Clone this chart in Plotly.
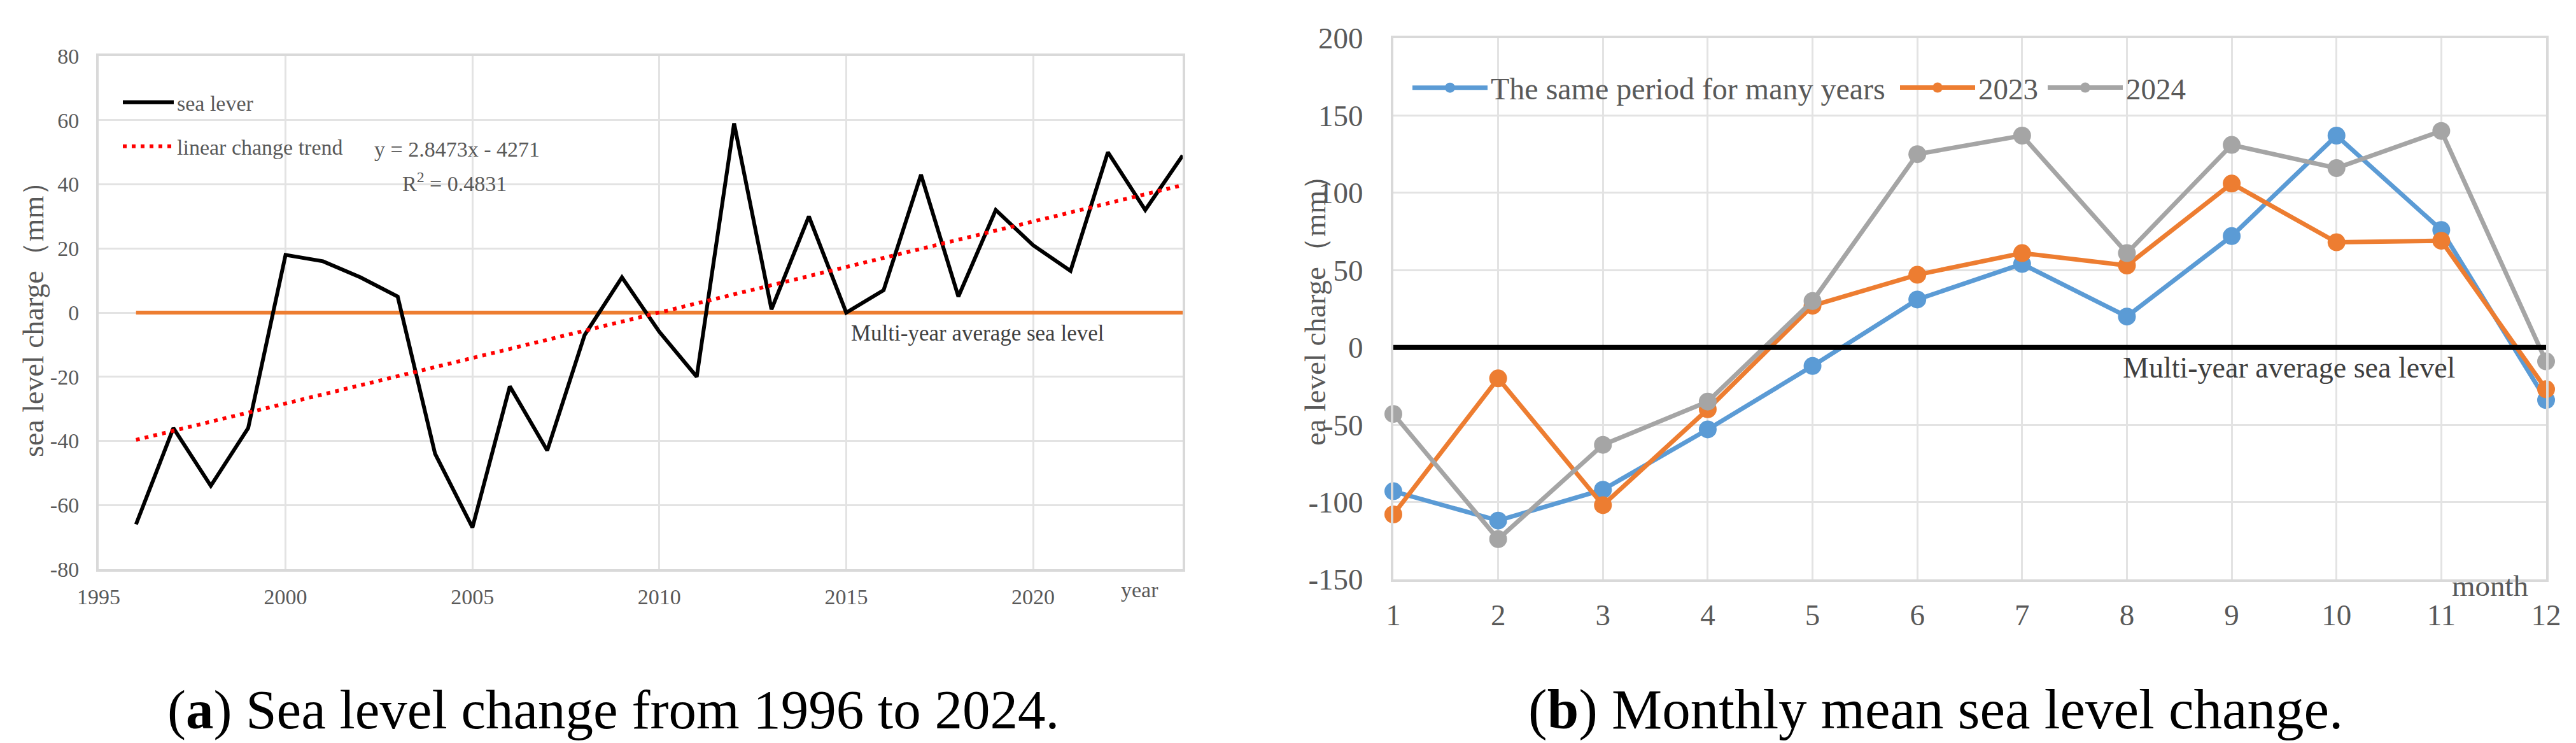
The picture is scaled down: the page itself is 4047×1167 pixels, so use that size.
import numpy as np
import plotly.graph_objects as go

# ---------------- data ----------------
years = list(range(1996, 2025))
sea_level = [-66, -36, -54, -36, 18, 16, 11, 5, -44, -67,
             -23, -43, -7, 11, -6, -20, 59, 1, 30, 0,
             7, 43, 5, 32, 21, 13, 50, 32, 49]
avg_level = 0

months = list(range(1, 13))
month_ticks = [str(m) for m in months]
series_names = ["The same period for many years", "2023", "2024"]
same_period = [-93, -112, -92, -53, -12, 31, 54, 20, 72, 137, 76, -34]
y2023 = [-108, -20, -102, -40, 27, 47, 61, 53, 106, 68, 69, -27]
y2024 = [-43, -124, -63, -35, 30, 125, 137, 61, 131, 116, 140, -9]

year_ticks = [1995, 2000, 2005, 2010, 2015, 2020]
left_yticks = [-80, -60, -40, -20, 0, 20, 40, 60, 80]
right_yticks = [-150, -100, -50, 0, 50, 100, 150, 200]

trend_eq = "y = 2.8473x - 4271"
trend_r2 = "R<sup>2</sup> = 0.4831"

# linear trend computed from the data
coef = np.polyfit(years, sea_level, 1)
trend = list(np.polyval(coef, years))

W, H = 4047, 1167
SERIF = "Liberation Serif, Times New Roman, serif"
GRID = "#e3e3e3"
BORDER = "#d9d9d9"
TXT = "#595959"
LF = 34   # left panel text size
RF = 47   # right panel text size


def px(x):
    return x / W


def py(y):
    return 1 - y / H


def hyphen_labels(vals):
    return [str(v) for v in vals]


fig = go.Figure()

# ---- left panel ----
fig.add_trace(go.Scatter(x=[years[0], years[-1]], y=[avg_level, avg_level], mode="lines",
                         line=dict(color="#ED7D31", width=6), showlegend=False,
                         xaxis="x", yaxis="y", hoverinfo="skip"))
fig.add_trace(go.Scatter(x=years, y=sea_level, mode="lines", name="sea lever",
                         line=dict(color="black", width=6), legend="legend",
                         legendgroup="a", xaxis="x", yaxis="y"))
fig.add_trace(go.Scatter(x=years, y=trend, mode="lines", name="linear change trend",
                         line=dict(color="#FF0000", width=6, dash="6px,8px"),
                         legend="legend", legendgroup="b", xaxis="x", yaxis="y"))

# ---- right panel ----
colors = ["#5B9BD5", "#ED7D31", "#A5A5A5"]
legend_ids = ["legend2", "legend3", "legend4"]
for name, vals, col, lg in zip(series_names, [same_period, y2023, y2024], colors, legend_ids):
    fig.add_trace(go.Scatter(x=months, y=vals, mode="lines+markers", name=name,
                             line=dict(color=col, width=7),
                             marker=dict(color=col, size=28),
                             cliponaxis=False, legend=lg,
                             xaxis="x2", yaxis="y2"))
fig.add_trace(go.Scatter(x=[months[0], months[-1]], y=[avg_level, avg_level], mode="lines",
                         line=dict(color="black", width=8), showlegend=False,
                         cliponaxis=False, xaxis="x2", yaxis="y2", hoverinfo="skip"))

axis_common = dict(showgrid=True, gridcolor=GRID, gridwidth=3, showline=True,
                   linecolor=BORDER, linewidth=4, mirror=True, zeroline=False, ticks="")


def right_legend(xpix, size=RF):
    return dict(x=px(xpix), y=py(130), xanchor="left", yanchor="middle",
                orientation="h", bgcolor="rgba(0,0,0,0)",
                font=dict(size=size, color=TXT, family=SERIF), itemwidth=118,
                itemsizing="trace")


fig.update_layout(
    width=W, height=H, autosize=False,
    margin=dict(l=0, r=0, t=0, b=0, pad=0, autoexpand=False),
    paper_bgcolor="white", plot_bgcolor="white",
    font=dict(family=SERIF, color=TXT),
    xaxis=dict(domain=[px(147), px(1850)], range=[1995, 2024], tickvals=year_ticks,
               ticktext=hyphen_labels(year_ticks),
               tickfont=dict(size=LF, color=TXT), ticklabelstandoff=10, anchor="y",
               **axis_common),
    yaxis=dict(domain=[py(886), py(80)], range=[-80, 80], tickvals=left_yticks,
               ticktext=hyphen_labels(left_yticks),
               tickfont=dict(size=LF, color=TXT), ticklabelstandoff=20, anchor="x",
               **axis_common),
    xaxis2=dict(domain=[px(2181), px(3992)], range=[1, 12], tickvals=months,
                ticktext=month_ticks,
                tickfont=dict(size=RF, color=TXT), ticklabelstandoff=12, anchor="y2",
                **axis_common),
    yaxis2=dict(domain=[py(902), py(52)], range=[-150, 200], tickvals=right_yticks,
                ticktext=hyphen_labels(right_yticks),
                tickfont=dict(size=RF, color=TXT), ticklabelstandoff=34, anchor="x2",
                **axis_common),
    legend=dict(x=px(180), y=py(124), xanchor="left", yanchor="top",
                orientation="v", bgcolor="rgba(0,0,0,0)", tracegroupgap=22,
                font=dict(size=LF, color=TXT, family=SERIF), itemwidth=80),
    legend2=right_legend(2206, 48),
    legend3=right_legend(2972),
    legend4=right_legend(3204),
    showlegend=True,
)

ann = [
    dict(text=trend_eq, x=px(578), y=py(226), xref="paper", yref="paper",
         xanchor="left", yanchor="middle", showarrow=False,
         font=dict(size=LF, color=TXT)),
    dict(text=trend_r2, x=px(622), y=py(278), xref="paper", yref="paper",
         xanchor="left", yanchor="middle", showarrow=False,
         font=dict(size=LF, color=TXT)),
    dict(text="Multi-year average sea level", x=2015.1, y=-6.5, xref="x", yref="y",
         xanchor="left", yanchor="middle", showarrow=False,
         font=dict(size=LF + 1, color="#404040")),
    dict(text="year", x=px(1782), y=py(918), xref="paper", yref="paper",
         xanchor="center", yanchor="middle", showarrow=False,
         font=dict(size=LF, color=TXT)),
    dict(text="sea level charge（mm）", x=px(45), y=py(482), xref="paper", yref="paper",
         xanchor="center", yanchor="middle", textangle=-90, showarrow=False,
         font=dict(size=46, color=TXT)),
    dict(text="Multi-year average sea level", x=7.95, y=-13, xref="x2", yref="y2",
         xanchor="left", yanchor="middle", showarrow=False,
         font=dict(size=46, color="#404040")),
    dict(text="month", x=px(3904), y=py(912), xref="paper", yref="paper",
         xanchor="center", yanchor="middle", showarrow=False,
         font=dict(size=RF, color=TXT)),
    dict(text="ea level charge（mm）", x=px(2058), y=py(468), xref="paper", yref="paper",
         xanchor="center", yanchor="middle", textangle=-90, showarrow=False,
         font=dict(size=47, color=TXT)),
    dict(text="(<b>a</b>) Sea level change from 1996 to 2024.", x=px(955), y=py(1106),
         xref="paper", yref="paper", xanchor="center", yanchor="middle", showarrow=False,
         font=dict(size=87, color="black")),
    dict(text="(<b>b</b>) Monthly mean sea level change.", x=px(3033), y=py(1106),
         xref="paper", yref="paper", xanchor="center", yanchor="middle", showarrow=False,
         font=dict(size=89, color="black")),
]
fig.update_layout(annotations=ann)

fig.write_html("out.html")
